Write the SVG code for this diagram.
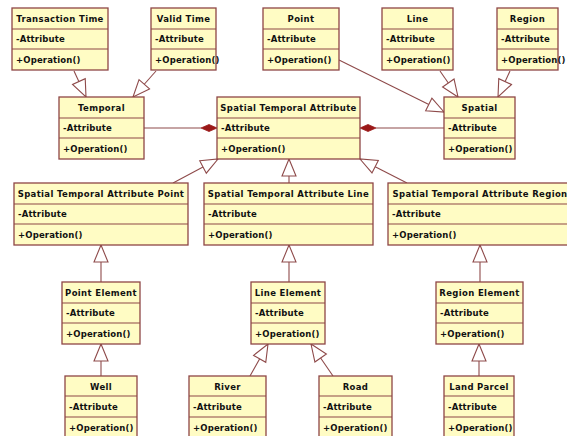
<svg xmlns="http://www.w3.org/2000/svg" width="567" height="436" viewBox="0 0 567 436">
<style>
.bx{fill:#fffcc4;stroke:#8e4646;stroke-width:1.3}
.dv{stroke:#8e4646;stroke-width:1.2}
.t{font-family:"DejaVu Sans",Verdana,sans-serif;font-weight:bold;font-size:8.5px;letter-spacing:0.15px;fill:#111}
.c{text-anchor:middle;letter-spacing:0.35px}
.cn{fill:none;stroke:#8e4a4a;stroke-width:1.1}
.dm{fill:#9a1818;stroke:#9a1818;stroke-width:0.8}
</style>
<defs>
<marker id="gen" markerUnits="userSpaceOnUse" markerWidth="20" markerHeight="16" refX="17" refY="7" orient="auto" overflow="visible">
<path d="M0,0 L17,7 L0,14 Z" fill="#fff" stroke="#8e4a4a" stroke-width="1.1"/>
</marker>
</defs>
<rect width="567" height="436" fill="#fff"/>
<g id="connectors">
<path class="cn" d="M74,71 L86,97" marker-end="url(#gen)"/>
<path class="cn" d="M156,71 L133,97" marker-end="url(#gen)"/>
<path class="cn" d="M339,60 L444,112" marker-end="url(#gen)"/>
<path class="cn" d="M440,71 L458,97" marker-end="url(#gen)"/>
<path class="cn" d="M510,71 L498,97" marker-end="url(#gen)"/>
<path class="cn" d="M173,183 L218,159" marker-end="url(#gen)"/>
<path class="cn" d="M289,183 L289,159" marker-end="url(#gen)"/>
<path class="cn" d="M407,183 L360,159" marker-end="url(#gen)"/>
<path class="cn" d="M101,282 L101,245" marker-end="url(#gen)"/>
<path class="cn" d="M289,282 L289,245" marker-end="url(#gen)"/>
<path class="cn" d="M480,282 L480,245" marker-end="url(#gen)"/>
<path class="cn" d="M101,376 L101,344" marker-end="url(#gen)"/>
<path class="cn" d="M250,376 L268,344" marker-end="url(#gen)"/>
<path class="cn" d="M333,376 L311,344" marker-end="url(#gen)"/>
<path class="cn" d="M479,376 L479,344" marker-end="url(#gen)"/>
<path class="cn" d="M144,128 L201,128"/>
<polygon class="dm" points="217,128 209,124.5 201,128 209,131.5"/>
<path class="cn" d="M376,128 L444,128"/>
<polygon class="dm" points="360,128 368,124.5 376,128 368,131.5"/>
</g>
<g id="tt" transform="translate(12,8)"><rect class="bx" width="96" height="62"/><line class="dv" x1="0" y1="21" x2="96" y2="21"/><line class="dv" x1="0" y1="41" x2="96" y2="41"/><text class="t c" x="48" y="14">Transaction Time</text><text class="t" x="4" y="34">-Attribute</text><text class="t" x="4" y="55">+Operation()</text></g>
<g id="vt" transform="translate(151,8)"><rect class="bx" width="65" height="62"/><line class="dv" x1="0" y1="21" x2="65" y2="21"/><line class="dv" x1="0" y1="41" x2="65" y2="41"/><text class="t c" x="32.5" y="14">Valid Time</text><text class="t" x="4" y="34">-Attribute</text><text class="t" x="4" y="55">+Operation()</text></g>
<g id="pt" transform="translate(263,8)"><rect class="bx" width="76" height="62"/><line class="dv" x1="0" y1="21" x2="76" y2="21"/><line class="dv" x1="0" y1="41" x2="76" y2="41"/><text class="t c" x="38" y="14">Point</text><text class="t" x="4" y="34">-Attribute</text><text class="t" x="4" y="55">+Operation()</text></g>
<g id="ln" transform="translate(382,8)"><rect class="bx" width="71" height="62"/><line class="dv" x1="0" y1="21" x2="71" y2="21"/><line class="dv" x1="0" y1="41" x2="71" y2="41"/><text class="t c" x="35.5" y="14">Line</text><text class="t" x="4" y="34">-Attribute</text><text class="t" x="4" y="55">+Operation()</text></g>
<g id="rg" transform="translate(497,8)"><rect class="bx" width="61" height="62"/><line class="dv" x1="0" y1="21" x2="61" y2="21"/><line class="dv" x1="0" y1="41" x2="61" y2="41"/><text class="t c" x="30.5" y="14">Region</text><text class="t" x="4" y="34">-Attribute</text><text class="t" x="4" y="55">+Operation()</text></g>
<g id="tmp" transform="translate(59,97)"><rect class="bx" width="85" height="62"/><line class="dv" x1="0" y1="21" x2="85" y2="21"/><line class="dv" x1="0" y1="41" x2="85" y2="41"/><text class="t c" x="42.5" y="14">Temporal</text><text class="t" x="4" y="34">-Attribute</text><text class="t" x="4" y="55">+Operation()</text></g>
<g id="sta" transform="translate(217,97)"><rect class="bx" width="143" height="62"/><line class="dv" x1="0" y1="21" x2="143" y2="21"/><line class="dv" x1="0" y1="41" x2="143" y2="41"/><text class="t c" x="71.5" y="14">Spatial Temporal Attribute</text><text class="t" x="4" y="34">-Attribute</text><text class="t" x="4" y="55">+Operation()</text></g>
<g id="sp" transform="translate(444,97)"><rect class="bx" width="71" height="62"/><line class="dv" x1="0" y1="21" x2="71" y2="21"/><line class="dv" x1="0" y1="41" x2="71" y2="41"/><text class="t c" x="35.5" y="14">Spatial</text><text class="t" x="4" y="34">-Attribute</text><text class="t" x="4" y="55">+Operation()</text></g>
<g id="stap" transform="translate(14,183)"><rect class="bx" width="174" height="62"/><line class="dv" x1="0" y1="21" x2="174" y2="21"/><line class="dv" x1="0" y1="41" x2="174" y2="41"/><text class="t c" x="87" y="14">Spatial Temporal Attribute Point</text><text class="t" x="4" y="34">-Attribute</text><text class="t" x="4" y="55">+Operation()</text></g>
<g id="stal" transform="translate(204,183)"><rect class="bx" width="169" height="62"/><line class="dv" x1="0" y1="21" x2="169" y2="21"/><line class="dv" x1="0" y1="41" x2="169" y2="41"/><text class="t c" x="84.5" y="14">Spatial Temporal Attribute Line</text><text class="t" x="4" y="34">-Attribute</text><text class="t" x="4" y="55">+Operation()</text></g>
<g id="star" transform="translate(388,183)"><rect class="bx" width="184" height="62"/><line class="dv" x1="0" y1="21" x2="184" y2="21"/><line class="dv" x1="0" y1="41" x2="184" y2="41"/><text class="t c" x="92" y="14">Spatial Temporal Attribute Region</text><text class="t" x="4" y="34">-Attribute</text><text class="t" x="4" y="55">+Operation()</text></g>
<g id="pe" transform="translate(62,282)"><rect class="bx" width="78" height="62"/><line class="dv" x1="0" y1="21" x2="78" y2="21"/><line class="dv" x1="0" y1="41" x2="78" y2="41"/><text class="t c" x="39" y="14">Point Element</text><text class="t" x="4" y="34">-Attribute</text><text class="t" x="4" y="55">+Operation()</text></g>
<g id="le" transform="translate(251,282)"><rect class="bx" width="74" height="62"/><line class="dv" x1="0" y1="21" x2="74" y2="21"/><line class="dv" x1="0" y1="41" x2="74" y2="41"/><text class="t c" x="37" y="14">Line Element</text><text class="t" x="4" y="34">-Attribute</text><text class="t" x="4" y="55">+Operation()</text></g>
<g id="re" transform="translate(436,282)"><rect class="bx" width="87" height="62"/><line class="dv" x1="0" y1="21" x2="87" y2="21"/><line class="dv" x1="0" y1="41" x2="87" y2="41"/><text class="t c" x="43.5" y="14">Region Element</text><text class="t" x="4" y="34">-Attribute</text><text class="t" x="4" y="55">+Operation()</text></g>
<g id="well" transform="translate(65,376)"><rect class="bx" width="72" height="64"/><line class="dv" x1="0" y1="20" x2="72" y2="20"/><line class="dv" x1="0" y1="41" x2="72" y2="41"/><text class="t c" x="36" y="14">Well</text><text class="t" x="4" y="34">-Attribute</text><text class="t" x="4" y="55">+Operation()</text></g>
<g id="river" transform="translate(189,376)"><rect class="bx" width="77" height="64"/><line class="dv" x1="0" y1="20" x2="77" y2="20"/><line class="dv" x1="0" y1="41" x2="77" y2="41"/><text class="t c" x="38.5" y="14">River</text><text class="t" x="4" y="34">-Attribute</text><text class="t" x="4" y="55">+Operation()</text></g>
<g id="road" transform="translate(319,376)"><rect class="bx" width="73" height="64"/><line class="dv" x1="0" y1="20" x2="73" y2="20"/><line class="dv" x1="0" y1="41" x2="73" y2="41"/><text class="t c" x="36.5" y="14">Road</text><text class="t" x="4" y="34">-Attribute</text><text class="t" x="4" y="55">+Operation()</text></g>
<g id="lp" transform="translate(444,376)"><rect class="bx" width="70" height="64"/><line class="dv" x1="0" y1="20" x2="70" y2="20"/><line class="dv" x1="0" y1="41" x2="70" y2="41"/><text class="t c" x="35" y="14">Land Parcel</text><text class="t" x="4" y="34">-Attribute</text><text class="t" x="4" y="55">+Operation()</text></g>
</svg>
